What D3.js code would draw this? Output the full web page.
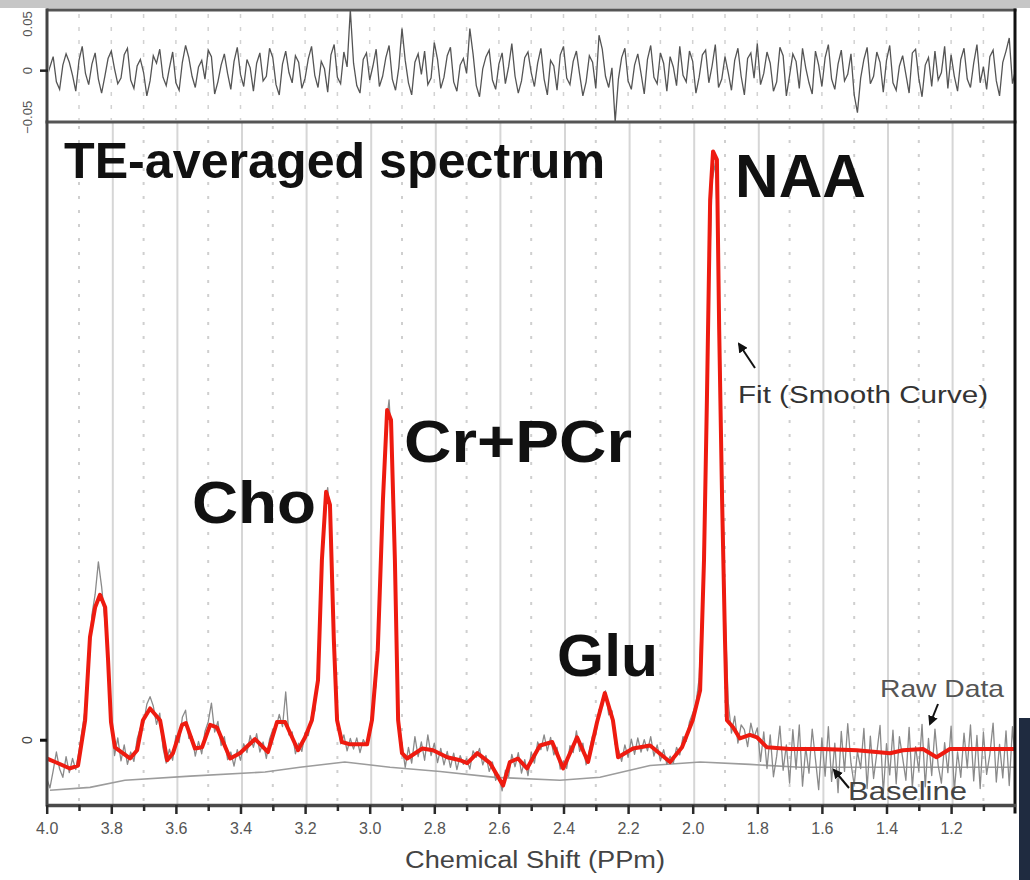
<!DOCTYPE html>
<html>
<head>
<meta charset="utf-8">
<script src="https://cdn.jsdelivr.net/npm/d3@7/dist/d3.min.js"></script>
<style>
html, body { margin: 0; padding: 0; background: #fff; }
svg { display: block; font-family: "Liberation Sans", Arial, sans-serif; }
</style>
</head>
<body>
<script>
// Tick values (ppm) and residual tick values (x 0.001).
var majorTicks = [4.0, 3.8, 3.6, 3.4, 3.2, 3.0, 2.8, 2.6, 2.4, 2.2, 2.0, 1.8, 1.6, 1.4, 1.2];
var minorTicks = [3.9, 3.7, 3.5, 3.3, 3.1, 2.9, 2.7, 2.5, 2.3, 2.1, 1.9, 1.7, 1.5, 1.3, 1.1];
var residualTicks = [50, 0, -50];

// Fit (smooth curve): [ppm, amplitude a.u.]
var fitCurve = [
  [4.000,-3.1],[3.974,-3.7],[3.928,-4.8],[3.903,-4.3],[3.881,3.4],[3.866,17.5],[3.850,22.6],[3.835,24.7],
  [3.819,22.6],[3.810,13.6],[3.801,3.1],[3.789,-1.2],[3.742,-3.1],[3.720,-1.7],[3.702,3.4],[3.680,5.4],
  [3.649,3.4],[3.627,-3.4],[3.609,-2.2],[3.581,2.6],[3.569,2.9],[3.541,-1.4],[3.519,-1.2],[3.494,2.6],
  [3.473,2.2],[3.432,-3.1],[3.402,-2.2],[3.355,0.2],[3.315,-2.0],[3.287,3.1],[3.262,3.1],[3.222,-1.7],
  [3.200,0.5],[3.179,3.4],[3.160,10.2],[3.148,30.6],[3.135,42.2],[3.123,40.0],[3.111,17.0],[3.101,3.4],
  [3.086,-0.3],[3.061,-0.7],[3.008,-0.7],[2.993,3.4],[2.975,15.3],[2.959,40.8],[2.946,56.1],[2.934,54.4],
  [2.922,30.6],[2.912,3.4],[2.900,-2.2],[2.884,-3.1],[2.837,-1.4],[2.804,-1.7],[2.760,-2.9],[2.720,-3.4],
  [2.698,-3.9],[2.667,-2.2],[2.627,-3.9],[2.587,-7.7],[2.566,-3.7],[2.541,-3.1],[2.513,-4.8],[2.473,-0.9],
  [2.435,-0.3],[2.401,-4.8],[2.358,0.5],[2.324,-3.7],[2.296,3.1],[2.272,8.0],[2.247,3.4],[2.231,-2.9],
  [2.185,-1.4],[2.132,-0.9],[2.070,-3.7],[2.033,-1.2],[2.000,3.4],[1.977,8.5],[1.965,30.6],[1.956,57.8],
  [1.946,91.8],[1.937,100],[1.925,98.6],[1.918,69.7],[1.909,40.8],[1.900,17.0],[1.894,3.4],[1.875,2.2],
  [1.854,0.3],[1.823,0.9],[1.801,0.5],[1.770,-1.2],[1.699,-1.5],[1.597,-1.5],[1.492,-1.7],[1.389,-2.2],
  [1.349,-1.7],[1.287,-1.5],[1.245,-2.9],[1.204,-1.5],[1.000,-1.5]
];

// Baseline: [ppm, amplitude a.u.]
var baseline = [
  [3.990,-8.5],[3.866,-8.0],[3.758,-6.8],[3.556,-6.1],[3.324,-5.4],[3.216,-4.6],[3.077,-3.7],
  [2.937,-4.6],[2.782,-5.3],[2.612,-6.3],[2.411,-6.8],[2.287,-6.3],[2.132,-4.3],[1.977,-3.7],
  [1.823,-4.1],[1.668,-4.6],[1.358,-4.6],[1.002,-4.6]
];

// Raw data, one value every 0.01 ppm from 4.00 down to 1.00.
var rawStart = 4.0, rawStep = 0.01;
var rawData = [
  -6.5,-8.1,-5.2,-2.0,-4.9,-6.3,-2.8,-5.5,-3.1,-5.0,
  -1.8,1.9,5.6,12.0,21.3,24.8,30.3,26.1,20.4,14.9,
  4.2,-2.6,0.4,-3.5,-0.8,-4.1,-2.0,-3.6,0.2,2.1,
  2.9,6.1,7.4,5.8,2.7,4.6,-1.3,-3.9,-1.5,-3.4,
  0.8,-0.4,3.9,5.1,0.3,0.6,-2.7,-0.2,-2.3,1.5,
  3.1,6.3,1.4,3.2,-0.9,0.6,-3.3,-2.0,-4.4,-1.6,
  -3.4,-0.6,-2.1,0.8,-1.2,1.1,-2.0,-0.3,-3.1,0.2,
  1.8,2.1,4.4,2.3,8.2,0.9,1.4,-2.3,-0.5,-1.9,
  1.3,0.8,4.1,5.0,12.4,25.1,39.8,42.9,36.0,18.3,
  4.5,-0.6,0.9,-1.8,0.3,-1.5,0.4,-2.1,0.1,-0.9,
  1.9,5.8,9.6,25.1,40.3,53.2,57.8,48.1,27.9,3.3,
  -0.8,-4.6,-1.2,-3.9,0.6,-2.8,-0.3,-3.4,0.9,-2.6,
  -0.5,-3.8,-1.4,-4.2,-1.9,-4.6,-2.2,-5.0,-2.6,-4.1,
  -3.1,-4.9,-1.8,-2.9,-1.4,-4.2,-2.6,-5.3,-3.7,-6.8,
  -5.9,-8.6,-5.1,-6.2,-2.4,-4.5,-2.1,-5.6,-3.3,-6.0,
  -2.0,-3.9,-0.3,-1.6,0.9,-1.8,0.5,-2.5,-1.2,-4.9,
  -3.5,-4.8,-0.9,-2.1,1.6,-1.9,-0.5,-4.2,-1.8,0.8,
  0.9,5.2,5.6,8.4,4.3,5.0,-0.7,-1.5,-3.6,-0.8,
  -2.9,0.2,-2.4,0.4,-2.0,0.1,-1.8,0.6,-2.7,-0.8,
  -3.5,-1.6,-4.1,-2.7,-3.9,-1.2,-2.5,0.6,-0.2,3.1,
  4.6,6.2,10.5,24.0,47.5,76.0,95.0,98.0,83.0,50.5,
  22.0,6.5,1.2,4.1,-0.5,2.6,1.8,-1.1,2.9,0.5,
  2.1,-3.6,1.4,-4.8,0.9,-6.2,-2.7,2.4,-5.1,-0.8,
  -7.3,1.8,-4.9,2.6,-7.8,-1.2,-5.6,1.9,-3.2,-8.4,
  0.4,-6.1,2.3,-7.0,-0.5,-8.9,1.5,-5.3,2.8,-3.9,
  -7.6,-1.9,-4.8,2.0,-8.2,0.7,-6.5,-2.2,2.5,-9.1,
  -0.6,-5.9,1.7,-7.4,0.6,-3.0,-6.8,2.2,-8.0,-1.1,
  -5.2,2.7,-7.9,0.3,-6.0,1.9,-4.3,-7.3,-0.4,-5.5,
  2.4,-8.6,-2.0,-6.3,1.2,-4.7,2.6,-6.9,0.8,-8.2,
  1.4,-5.8,-2.4,2.9,-7.1,-0.7,-6.4,1.6,-7.7,2.3,
  -5.0,0.2,-8.5,1.8,-3.6,-6.2,2.7,-4.4,-1.0,-7.0,
  -1.5
];

// Residual (raw - fit), x 0.001, same ppm grid as the raw data.
var residual = [
  -8,4,15,-12,-20,6,18,9,-5,-22,11,26,-3,-15,7,19,-9,-24,-6,13,
  21,2,-14,-8,17,24,-10,-19,5,12,-2,-27,-11,16,8,23,-7,-16,3,20,
  -13,-21,9,27,14,-6,-18,4,11,-9,22,15,-25,-12,6,18,-3,-20,10,25,
  -4,-17,12,3,-22,8,19,-11,-6,24,14,-15,-26,7,21,-2,-13,16,9,-19,
  -8,13,26,-5,-18,10,2,-23,17,28,-7,-14,20,4,65,8,-16,-24,12,19,
  -10,5,23,-17,-6,14,27,-9,-21,3,45,11,-13,-26,9,18,-4,21,-15,-8,
  30,12,-19,-7,16,25,-12,-22,6,13,-3,45,18,-16,-28,2,15,22,-10,-20,
  7,19,-14,4,29,-6,-24,-11,14,20,-2,-17,8,24,-9,-26,11,5,-21,17,
  26,-8,-15,10,21,-4,-27,-12,16,9,-19,38,23,-6,-18,3,-55,-9,14,24,
  -11,-20,6,18,-3,-25,12,27,-7,-14,19,8,-22,15,4,-16,26,-5,-12,21,
  10,-24,-7,17,22,-13,5,28,-18,-9,15,-2,-21,11,24,-6,-26,13,19,-8,
  29,-15,-3,20,8,-22,-12,25,16,-27,-5,18,10,-19,24,3,-13,-25,21,6,
  -17,14,28,-9,-20,7,22,-11,-4,18,-26,-45,-8,12,25,-14,-6,20,9,-23,
  11,27,-13,-21,5,16,-4,-24,19,23,-8,-28,6,14,-17,21,-10,-2,26,-19,
  17,-6,-22,12,24,-9,-18,8,28,-13,4,-20,15,22,-11,-27,9,21,35,-14,2
];

// Create widget.
var svg = d3.select("body").append("svg")
        .attr("width", 1030)
        .attr("height", 880);

var x = d3.scaleLinear().domain([4.0, 1.0]).range([46.7, 1015.7]);
var yMain = d3.scaleLinear().domain([-11, 105]).range([805, 122]);
var yRes = d3.scaleLinear().domain([-55, 65]).range([122, 10]);

var defs = svg.append("defs");
defs.append("clipPath").attr("id", "clipMain").append("rect")
        .attr("x", 48).attr("y", 123).attr("width", 967).attr("height", 681);
defs.append("clipPath").attr("id", "clipRes").append("rect")
        .attr("x", 49).attr("y", 11).attr("width", 966).attr("height", 110);
defs.append("marker")
        .attr("id", "arrow")
        .attr("viewBox", "0 0 10 10")
        .attr("refX", 8).attr("refY", 5)
        .attr("markerWidth", 5).attr("markerHeight", 5)
        .attr("orient", "auto-start-reverse")
        .append("path").attr("d", "M0,0L10,5L0,10z").style("fill", "#111");

// Background strips.
svg.append("rect").attr("x", 0).attr("y", 0).attr("width", 1030).attr("height", 8).style("fill", "#c6c6c6");
svg.append("rect").attr("x", 1019).attr("y", 718).attr("width", 11).attr("height", 162).style("fill", "#1f2b40");

// Grid lines.
var grid = svg.append("g");
grid.selectAll(".gmaj").data(majorTicks.slice(1)).enter().append("line")
        .attr("x1", function(d) { return x(d) + 1.5; }).attr("x2", function(d) { return x(d) + 1.5; })
        .attr("y1", 123).attr("y2", 804)
        .style("stroke", "#d6d6d6").style("stroke-width", 2);
grid.selectAll(".gmin").data(minorTicks).enter().append("line")
        .attr("x1", function(d) { return x(d); }).attr("x2", function(d) { return x(d); })
        .attr("y1", 126).attr("y2", 804)
        .style("stroke", "#cfcfcf").style("stroke-width", 2)
        .style("stroke-dasharray", "3,11");
grid.selectAll(".gres").data(majorTicks.slice(1).concat(minorTicks)).enter().append("line")
        .attr("x1", function(d) { return x(d); }).attr("x2", function(d) { return x(d); })
        .attr("y1", 14).attr("y2", 120)
        .style("stroke", "#d2d2d2").style("stroke-width", 1.5)
        .style("stroke-dasharray", "4,9");

// Series lines.
var lineMain = d3.line()
        .x(function(d) { return x(d[0]); })
        .y(function(d) { return yMain(d[1]); });
var rawPoints = rawData.map(function(v, i) { return [rawStart - i * rawStep, v]; });
var resPoints = residual.map(function(v, i) { return [rawStart - i * rawStep, v]; });

var plot = svg.append("g").attr("clip-path", "url(#clipMain)");
plot.append("path").datum(baseline)
        .attr("d", lineMain)
        .style("fill", "none").style("stroke", "#9c9c9c").style("stroke-width", 1.6);
plot.append("path").datum(rawPoints)
        .attr("d", lineMain)
        .style("fill", "none").style("stroke", "#8a8a8a").style("stroke-width", 1.3)
        .style("stroke-linejoin", "round");
plot.append("path").datum(fitCurve)
        .attr("d", lineMain)
        .style("fill", "none").style("stroke", "#ee1b10").style("stroke-width", 4)
        .style("stroke-linejoin", "round");

svg.append("g").attr("clip-path", "url(#clipRes)")
        .append("path").datum(resPoints)
        .attr("d", d3.line()
                .x(function(d) { return x(d[0]); })
                .y(function(d) { return yRes(d[1]); }))
        .style("fill", "none").style("stroke", "#555").style("stroke-width", 1.3);

// Frame.
var frame = svg.append("g").style("fill", "none").style("stroke-linecap", "square");
frame.append("line").attr("x1", 48).attr("x2", 1015).attr("y1", 10).attr("y2", 10)
        .style("stroke", "#555").style("stroke-width", 3);
frame.append("line").attr("x1", 47).attr("x2", 1015).attr("y1", 122).attr("y2", 122)
        .style("stroke", "#555").style("stroke-width", 3);
frame.append("line").attr("x1", 47).attr("x2", 47).attr("y1", 10).attr("y2", 805)
        .style("stroke", "#444").style("stroke-width", 3);
frame.append("line").attr("x1", 1015).attr("x2", 1015).attr("y1", 10).attr("y2", 812)
        .style("stroke", "#111").style("stroke-width", 3);

// Bottom axis.
var axisMajor = svg.append("g")
        .attr("transform", "translate(0,805)")
        .call(d3.axisBottom(x).tickValues(majorTicks).tickSize(9).tickSizeOuter(0)
                .tickFormat(d3.format(".1f")));
axisMajor.select(".domain").style("stroke", "#4a4a4a").style("stroke-width", 3.5);
axisMajor.selectAll(".tick line").style("stroke", "#2a2a2a").style("stroke-width", 2.5);
axisMajor.selectAll(".tick text")
        .attr("y", 18)
        .style("font-family", "'Liberation Sans', Arial, sans-serif")
        .style("font-size", "16px").style("fill", "#555");
var axisMinor = svg.append("g")
        .attr("transform", "translate(0,805)")
        .call(d3.axisBottom(x).tickValues(minorTicks).tickSize(6).tickSizeOuter(0).tickFormat(""));
axisMinor.select(".domain").remove();
axisMinor.selectAll(".tick line").style("stroke", "#2a2a2a").style("stroke-width", 2.5);

svg.append("text")
        .attr("x", 405).attr("y", 868)
        .attr("textLength", 260).attr("lengthAdjust", "spacingAndGlyphs")
        .style("font-size", "23px").style("fill", "#444")
        .text("Chemical Shift (PPm)");

// Left ticks.
svg.append("line").attr("x1", 40).attr("x2", 47).attr("y1", yMain(0)).attr("y2", yMain(0))
        .style("stroke", "#111").style("stroke-width", 3);
svg.append("text")
        .attr("transform", "translate(32," + yMain(0) + ") rotate(-90)")
        .attr("text-anchor", "middle")
        .style("font-size", "14px").style("fill", "#444")
        .text("0");
svg.append("line").attr("x1", 40).attr("x2", 48).attr("y1", yRes(0)).attr("y2", yRes(0))
        .style("stroke", "#222").style("stroke-width", 2.5);
svg.selectAll(".reslab").data(residualTicks).enter().append("text")
        .attr("transform", function(d) { return "translate(32," + yRes(d) + ") rotate(-90)"; })
        .attr("text-anchor", "middle")
        .style("font-size", "13px").style("fill", "#555")
        .text(function(d) { return d3.format("")(d / 1000); });

// Labels.
var labels = [
    {t: "TE-averaged spectrum", x: 64, y: 178, s: 50, w: 541},
    {t: "NAA", x: 735, y: 197, s: 62, w: 131},
    {t: "Cr+PCr", x: 404, y: 462, s: 60, w: 228},
    {t: "Cho", x: 192, y: 523, s: 60, w: 124},
    {t: "Glu", x: 557, y: 676, s: 60, w: 101}
];
svg.selectAll(".big").data(labels).enter().append("text")
        .attr("x", function(d) { return d.x; })
        .attr("y", function(d) { return d.y; })
        .attr("textLength", function(d) { return d.w; })
        .attr("lengthAdjust", "spacingAndGlyphs")
        .style("font-size", function(d) { return d.s + "px"; })
        .style("font-weight", "bold").style("fill", "#111")
        .text(function(d) { return d.t; });

// Annotations.
svg.append("text").attr("x", 738).attr("y", 403)
        .attr("textLength", 250).attr("lengthAdjust", "spacingAndGlyphs")
        .style("font-size", "23px").style("fill", "#333")
        .text("Fit (Smooth Curve)");
svg.append("line").attr("x1", 755).attr("y1", 368).attr("x2", 739).attr("y2", 344)
        .attr("marker-end", "url(#arrow)")
        .style("stroke", "#111").style("stroke-width", 2);

svg.append("text").attr("x", 880).attr("y", 697)
        .attr("textLength", 124).attr("lengthAdjust", "spacingAndGlyphs")
        .style("font-size", "24px").style("fill", "#555")
        .text("Raw Data");
svg.append("line").attr("x1", 938).attr("y1", 704).attr("x2", 930).attr("y2", 724)
        .attr("marker-end", "url(#arrow)")
        .style("stroke", "#111").style("stroke-width", 2);

svg.append("text").attr("x", 848).attr("y", 800)
        .attr("textLength", 119).attr("lengthAdjust", "spacingAndGlyphs")
        .style("font-size", "25px").style("fill", "#444")
        .text("Baseline");
svg.append("line").attr("x1", 849).attr("y1", 788).attr("x2", 834).attr("y2", 770)
        .attr("marker-end", "url(#arrow)")
        .style("stroke", "#111").style("stroke-width", 2);
</script>
</body>
</html>
